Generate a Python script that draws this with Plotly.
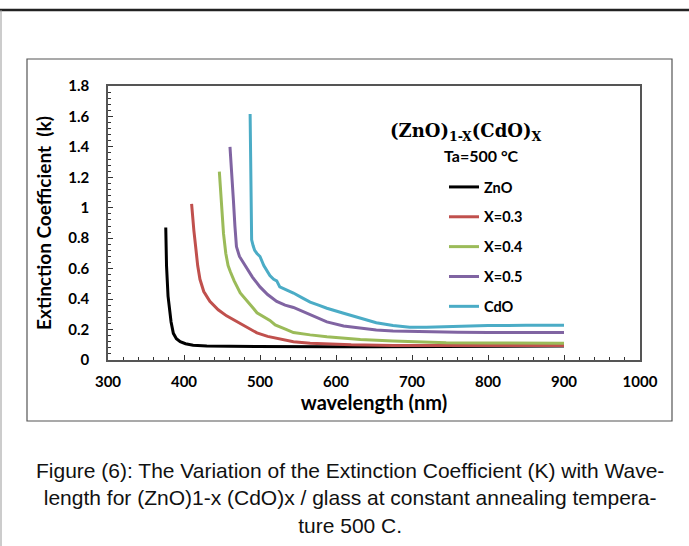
import plotly.graph_objects as go

# ---------------- data ----------------
series_names = ["ZnO", "X=0.3", "X=0.4", "X=0.5", "CdO"]

wl_zno = [376, 377, 379, 381, 383, 386, 390, 395, 402, 412, 430, 460, 500, 550, 600, 650, 700, 750, 800, 850, 900]
k_zno = [0.87, 0.62, 0.42, 0.32, 0.25, 0.175, 0.14, 0.12, 0.107, 0.097, 0.092, 0.09, 0.088, 0.087, 0.087, 0.087, 0.088, 0.089, 0.09, 0.091, 0.092]

wl_x03 = [410, 411, 413, 415, 418, 421, 426, 434, 445, 456, 465, 474, 485, 496, 510, 522, 544, 566, 588, 620, 675, 750, 800, 850, 900]
k_x03 = [1.025, 0.95, 0.85, 0.76, 0.62, 0.53, 0.45, 0.385, 0.33, 0.29, 0.265, 0.24, 0.205, 0.178, 0.155, 0.142, 0.12, 0.11, 0.104, 0.1, 0.096, 0.095, 0.095, 0.095, 0.096]

wl_x04 = [446.5, 448, 450, 452, 455, 458, 461, 466, 474, 481, 487, 492, 496, 503, 513, 520, 526, 535, 544, 555, 566, 588, 610, 632, 675, 745, 800, 850, 900]
k_x04 = [1.237, 1.12, 0.98, 0.83, 0.7, 0.62, 0.58, 0.52, 0.44, 0.4, 0.37, 0.335, 0.31, 0.29, 0.26, 0.23, 0.22, 0.2, 0.18, 0.17, 0.165, 0.153, 0.143, 0.135, 0.125, 0.114, 0.112, 0.111, 0.11]

wl_x05 = [460.5, 462, 465, 467, 469, 473, 478, 483, 490, 500, 510, 522, 533, 544, 555, 566, 577, 588, 610, 632, 653, 675, 719, 760, 800, 850, 900]
k_x05 = [1.40, 1.3, 1.05, 0.88, 0.745, 0.68, 0.64, 0.6, 0.545, 0.48, 0.43, 0.385, 0.36, 0.345, 0.32, 0.295, 0.27, 0.25, 0.223, 0.208, 0.197, 0.19, 0.184, 0.182, 0.181, 0.18, 0.18]

wl_cdo = [487, 488, 489, 491, 493, 496, 500, 505, 509, 513, 518, 522, 526, 535, 544, 555, 566, 577, 588, 610, 632, 653, 675, 697, 719, 740, 763, 800, 850, 900]
k_cdo = [1.616, 1.2, 0.79, 0.75, 0.72, 0.7, 0.68, 0.62, 0.59, 0.555, 0.53, 0.52, 0.48, 0.46, 0.44, 0.41, 0.38, 0.36, 0.34, 0.307, 0.274, 0.245, 0.226, 0.215, 0.215, 0.218, 0.223, 0.226, 0.228, 0.229]

colors = ["#000000", "#C0504D", "#9BBB59", "#8064A2", "#4BACC6"]

x_tick_vals = [300, 400, 500, 600, 700, 800, 900, 1000]
x_tick_text = ["300", "400", "500", "600", "700", "800", "900", "1000"]
y_tick_vals = [0, 0.2, 0.4, 0.6, 0.8, 1.0, 1.2, 1.4, 1.6, 1.8]
y_tick_text = ["0", "0.2", "0.4", "0.6", "0.8", "1", "1.2", "1.4", "1.6", "1.8"]

caption = ("Figure (6): The Variation of the Extinction Coefficient (K) with Wave-<br>"
           "length for (ZnO)1-x (CdO)x / glass at constant annealing tempera-<br>"
           "ture 500 C.")

# ---------------- figure ----------------
W, H = 689, 546
L, R, T, B = 108, 49, 86, 186
pw, ph = W - L - R, H - T - B

def px(xp):
    return (xp - L) / pw

def py(yp):
    return (H - B - yp) / ph

SANS = "Lato, 'Open Sans', sans-serif"

fig = go.Figure()
all_x = [wl_zno, wl_x03, wl_x04, wl_x05, wl_cdo]
all_y = [k_zno, k_x03, k_x04, k_x05, k_cdo]
for name, xs, ys, c in zip(series_names, all_x, all_y, colors):
    fig.add_trace(go.Scatter(x=xs, y=ys, mode="lines", name="<b>" + name + "</b>",
                             legendgroup=name,
                             line=dict(color=c, width=3)))

fig.update_layout(
    width=W, height=H,
    margin=dict(l=L, r=R, t=T, b=B),
    paper_bgcolor="white", plot_bgcolor="white",
    showlegend=True,
    legend=dict(x=px(444), y=py(171), xanchor="left", yanchor="top",
                bgcolor="rgba(0,0,0,0)", tracegroupgap=8,
                font=dict(family=SANS, size=14.5, color="#000000"),
                itemwidth=30),
    xaxis=dict(range=[300, 1000], tickvals=x_tick_vals,
               ticktext=["<b>" + t + "</b>" for t in x_tick_text],
               ticks="inside", ticklen=5, tickcolor="#333333", tickwidth=1,
               minor=dict(dtick=20, ticks="inside", ticklen=3, tickcolor="#333333"),
               showline=True, linecolor="#555555", linewidth=1.5, mirror=True,
               showgrid=False, zeroline=False,
               tickfont=dict(family=SANS, size=15, color="#000000"),
               ticklabelstandoff=7,
               title=dict(text="<b>wavelength (nm)</b>", standoff=7,
                          font=dict(family=SANS, size=20, color="#000000"))),
    yaxis=dict(range=[0, 1.8], tickvals=y_tick_vals,
               ticktext=["<b>" + t + "</b>" for t in y_tick_text],
               ticks="inside", ticklen=5, tickcolor="#333333", tickwidth=1,
               minor=dict(dtick=0.04, ticks="inside", ticklen=3, tickcolor="#333333"),
               showline=True, linecolor="#555555", linewidth=1.5, mirror=True,
               showgrid=False, zeroline=False,
               tickfont=dict(family=SANS, size=15, color="#000000"),
               ticklabelstandoff=14,
               title=dict(text="<b>Extinction Coefficient  (k)</b>", standoff=12,
                          font=dict(family=SANS, size=19, color="#000000"))),
)

# chart frame and page borders
fig.add_shape(type="rect", xref="paper", yref="paper",
              x0=px(27), x1=px(672), y0=py(421), y1=py(59),
              line=dict(color="#555555", width=1.2))
fig.add_shape(type="line", xref="paper", yref="paper",
              x0=px(0), x1=px(689), y0=py(10), y1=py(10),
              line=dict(color="#222222", width=2.5))
fig.add_shape(type="line", xref="paper", yref="paper",
              x0=px(1), x1=px(1), y0=py(10), y1=py(546),
              line=dict(color="#999999", width=1))

# legend heading
fig.add_annotation(xref="paper", yref="paper", x=px(465), y=py(132),
                   xanchor="center", yanchor="middle",
                   text="<b>(ZnO)<sub>1-X</sub>(CdO)<sub>X</sub></b>", showarrow=False,
                   font=dict(family="'DejaVu Serif', 'Liberation Serif', serif", size=18, color="#000000"))
fig.add_annotation(xref="paper", yref="paper", x=px(481), y=py(155),
                   xanchor="center", yanchor="middle",
                   text="<b>Ta=500 °C</b>", showarrow=False,
                   font=dict(family=SANS, size=16, color="#000000"))

# caption
fig.add_annotation(xref="paper", yref="paper", x=px(350), y=py(498),
                   xanchor="center", yanchor="middle",
                   text=caption, showarrow=False, align="center",
                   font=dict(family="'Liberation Sans Narrow', 'Liberation Sans', sans-serif", size=21, color="#111111"))

fig.write_html("out.html")
